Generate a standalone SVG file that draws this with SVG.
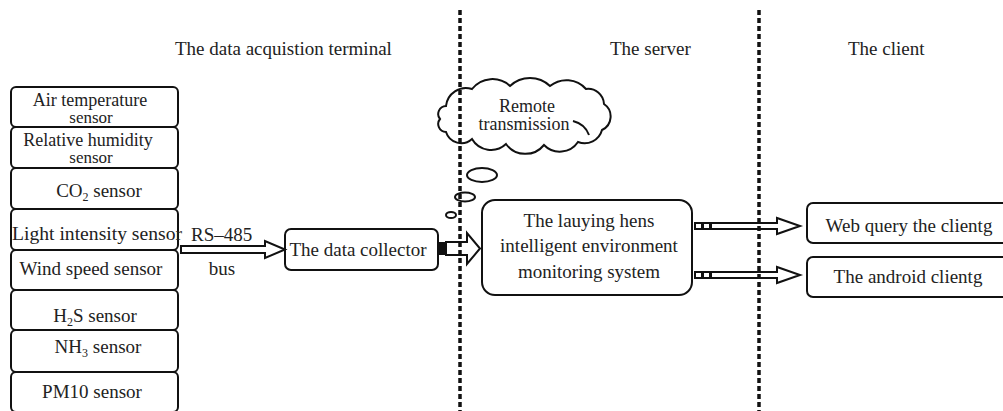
<svg xmlns="http://www.w3.org/2000/svg" width="1003" height="411" viewBox="0 0 1003 411">
<style>
text{font-family:"Liberation Serif","Times New Roman","DejaVu Serif",serif;font-size:19px;fill:#222}
.c{text-anchor:middle}
.t2{font-size:18px}
.sm{font-size:17px}
.cl{font-size:18px}
.box{fill:#fff;stroke:#111;stroke-width:2}
.arr{fill:#fff;stroke:#111;stroke-width:2;stroke-linejoin:miter}
.dash{stroke:#111;stroke-width:3.5;stroke-dasharray:5 3;fill:none}
.cloud{fill:none;stroke:#111;stroke-width:2}
.sub{font-size:12px}
</style>
<rect width="1003" height="411" fill="#fff"/>

<g id="labels">
<text x="175" y="55">The data acquistion terminal</text>
<text x="610" y="55">The server</text>
<text x="848" y="55">The client</text>
</g>

<g id="sensors">
<g id="s-air"><rect class="box" x="11" y="87" width="167" height="40" rx="5"/>
<text class="c t2" x="90" y="106">Air temperature</text><text class="c sm" x="91" y="123">sensor</text></g>
<g id="s-hum"><rect class="box" x="11" y="127" width="167" height="41" rx="5"/>
<text class="c t2" x="88" y="146">Relative humidity</text><text class="c sm" x="91" y="163">sensor</text></g>
<g id="s-co2"><rect class="box" x="11" y="168" width="167" height="41" rx="5"/>
<text class="c" x="99" y="197">CO<tspan class="sub" dy="4">2</tspan><tspan dy="-4"> sensor</tspan></text></g>
<g id="s-light"><rect class="box" x="11" y="209" width="167" height="41" rx="5"/>
<text x="12" y="240" textLength="170" lengthAdjust="spacingAndGlyphs">Light intensity sensor</text></g>
<g id="s-wind"><rect class="box" x="11" y="250" width="167" height="40" rx="5"/>
<text class="c" x="91" y="275">Wind speed sensor</text></g>
<g id="s-h2s"><rect class="box" x="11" y="290" width="167" height="40" rx="5"/>
<text class="c" x="95" y="322">H<tspan class="sub" dy="4">2</tspan><tspan dy="-4">S sensor</tspan></text></g>
<g id="s-nh3"><rect class="box" x="11" y="330" width="167" height="42" rx="5"/>
<text class="c" x="98" y="353">NH<tspan class="sub" dy="4">3</tspan><tspan dy="-4"> sensor</tspan></text></g>
<g id="s-pm10"><rect class="box" x="11" y="372" width="167" height="40" rx="5"/>
<text class="c" x="92" y="398">PM10 sensor</text></g>
</g>

<g id="collector">
<rect class="box" x="285" y="229" width="153" height="41" rx="6"/>
<text class="c" x="358" y="256">The data collector</text>
</g>

<g id="server">
<rect class="box" x="482" y="200" width="210" height="95" rx="13"/>
<text class="c" x="589" y="227">The lauying hens</text>
<text class="c" x="589" y="252">intelligent environment</text>
<text class="c" x="589" y="278">monitoring system</text>
</g>

<g id="client-web">
<rect class="box" x="807" y="203" width="210" height="40" rx="6"/>
<text class="c" x="909" y="232">Web query the clientg</text>
</g>
<g id="client-android">
<rect class="box" x="807" y="257" width="210" height="40" rx="6"/>
<text class="c" x="908" y="283">The android clientg</text>
</g>

<g id="cloud">
<path class="cloud" d="M446 106 A20 20 0 0 1 472 89 A26 26 0 0 1 510 86 A29 29 0 0 1 550 86 A26 26 0 0 1 586 89 A16 16 0 0 1 604 104 A15 15 0 0 1 602 130 A18 18 0 0 1 578 142 A22 22 0 0 1 544 145 A24 24 0 0 1 506 144 A22 22 0 0 1 472 139 A16 16 0 0 1 446 132 A8 8 0 0 1 440 119 A8 8 0 0 1 446 106 Z"/>
<path class="cloud" d="M573 121 Q585 124 589 135"/>
<text class="c cl" x="527" y="112">Remote</text>
<text class="c cl" x="524" y="130">transmission</text>
<ellipse class="cloud" cx="482" cy="175" rx="15" ry="7"/>
<ellipse class="cloud" cx="465" cy="197" rx="10" ry="4.5"/>
<ellipse class="cloud" cx="451" cy="215" rx="5" ry="3"/>
</g>

<g id="connectors">
<polygon class="arr" points="181,246 265,246 265,241 285,249.5 265,258 265,253 181,253"/>
<text x="191" y="241">RS–485</text>
<text class="c" x="222" y="275">bus</text>
<rect x="438" y="242" width="8" height="13" fill="#111"/>
<polygon class="arr" points="446,242 467,242 467,233 480,248.5 467,264 467,255 446,255"/>
<rect x="695" y="223" width="7" height="6" fill="#fff" stroke="#111" stroke-width="2"/>
<rect x="703" y="223" width="7" height="6" fill="#fff" stroke="#111" stroke-width="2"/>
<polygon class="arr" points="711,223 777,223 777,218 800,226 777,234 777,229 711,229"/>
<rect x="695" y="272" width="7" height="6" fill="#fff" stroke="#111" stroke-width="2"/>
<rect x="703" y="272" width="7" height="6" fill="#fff" stroke="#111" stroke-width="2"/>
<polygon class="arr" points="711,272 777,272 777,267 800,275 777,283 777,278 711,278"/>
</g>

<g id="dividers">
<line class="dash" x1="460" y1="10" x2="460" y2="411"/>
<line class="dash" x1="759" y1="10" x2="759" y2="411"/>
</g>
</svg>
